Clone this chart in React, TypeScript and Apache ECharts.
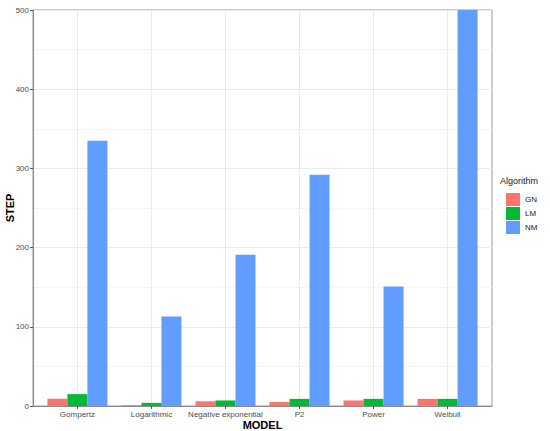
import React, { useEffect, useRef } from "react";
import * as echarts from "echarts";

const categories = ["Gompertz", "Logarithmic", "Negative exponential", "P2", "Power", "Weibull"];
const algorithms = ["GN", "LM", "NM"];
const gnValues = [9, 1, 6, 5, 7, 9];
const lmValues = [15, 4, 7, 9, 9, 9];
const nmValues = [335, 113, 191, 292, 151, 500];
const yTicks = [0, 100, 200, 300, 400, 500];
const colors = ["#F8766D", "#00BA38", "#619CFF"];

export default function App() {
  const ref = useRef<HTMLDivElement>(null);
  useEffect(() => {
    if (!ref.current) return;
    const chart = echarts.init(ref.current, null, { renderer: "svg" });
    const seriesValues = [gnValues, lmValues, nmValues];
    const idx = categories.map((_, i) => i);
    const font = "Liberation Sans, Arial, sans-serif";
    chart.setOption({
      animation: false,
      backgroundColor: "#ffffff",
      textStyle: { fontFamily: font },
      grid: {
        left: 33,
        right: 58,
        top: 10,
        bottom: 25,
        containLabel: false,
        outerBoundsMode: "none",
        show: true,
        borderColor: "#9a9a9a",
        borderWidth: 1,
        backgroundColor: "transparent",
      },
      legend: {
        orient: "vertical",
        left: 506,
        top: 193,
        padding: 0,
        itemWidth: 14,
        itemHeight: 13,
        itemGap: 1,
        icon: "rect",
        data: algorithms,
        textStyle: { fontSize: 8, color: "#1a1a1a", fontFamily: font },
      },
      graphic: [
        {
          type: "text",
          left: 500,
          top: 176,
          style: { text: "Algorithm", fontSize: 9, fill: "#1a1a1a", fontFamily: font },
        },
      ],
      xAxis: {
        type: "value",
        min: -0.6,
        max: 5.6,
        name: "MODEL",
        nameLocation: "middle",
        nameGap: 13,
        nameMoveOverlap: false,
        nameTextStyle: { fontSize: 11, fontWeight: "bold", color: "#000", fontFamily: font },
        axisLine: { show: true, onZero: false, lineStyle: { color: "#8a8a8a" } },
        axisTick: { show: true, length: 3, customValues: idx, lineStyle: { color: "#555" } },
        axisLabel: {
          customValues: idx,
          formatter: (v: number) => categories[Math.round(v)] ?? "",
          fontSize: 8,
          color: "#4d4d4d",
          margin: 4,
          fontFamily: font,
        },
        splitLine: { show: true, lineStyle: { color: "#ebebeb", width: 1 } },
      },
      yAxis: {
        type: "value",
        min: 0,
        max: 500,
        interval: 100,
        name: "STEP",
        nameLocation: "middle",
        nameGap: 18,
        nameMoveOverlap: false,
        nameTextStyle: { fontSize: 11, fontWeight: "bold", color: "#000", fontFamily: font },
        axisLine: { show: true, onZero: false, lineStyle: { color: "#8a8a8a" } },
        axisTick: { show: true, length: 3, lineStyle: { color: "#555" } },
        axisLabel: {
          fontSize: 8,
          color: "#4d4d4d",
          margin: 4,
          fontFamily: font,
          customValues: yTicks,
        },
        splitLine: { show: true, lineStyle: { color: "#ebebeb", width: 1 } },
        minorTick: { show: false, splitNumber: 2 },
        minorSplitLine: { show: true, lineStyle: { color: "#f5f5f5", width: 1 } },
      },
      series: algorithms.map((name, s) => ({
        name,
        type: "bar",
        barWidth: 20,
        barGap: "0%",
        itemStyle: { color: colors[s] },
        data: seriesValues[s].map((v, i) => [i, v]),
      })),
    });
    return () => chart.dispose();
  }, []);
  return (
    <div
      ref={ref}
      style={{ position: "fixed", left: 0, top: 0, width: 550, height: 431 }}
    />
  );
}
